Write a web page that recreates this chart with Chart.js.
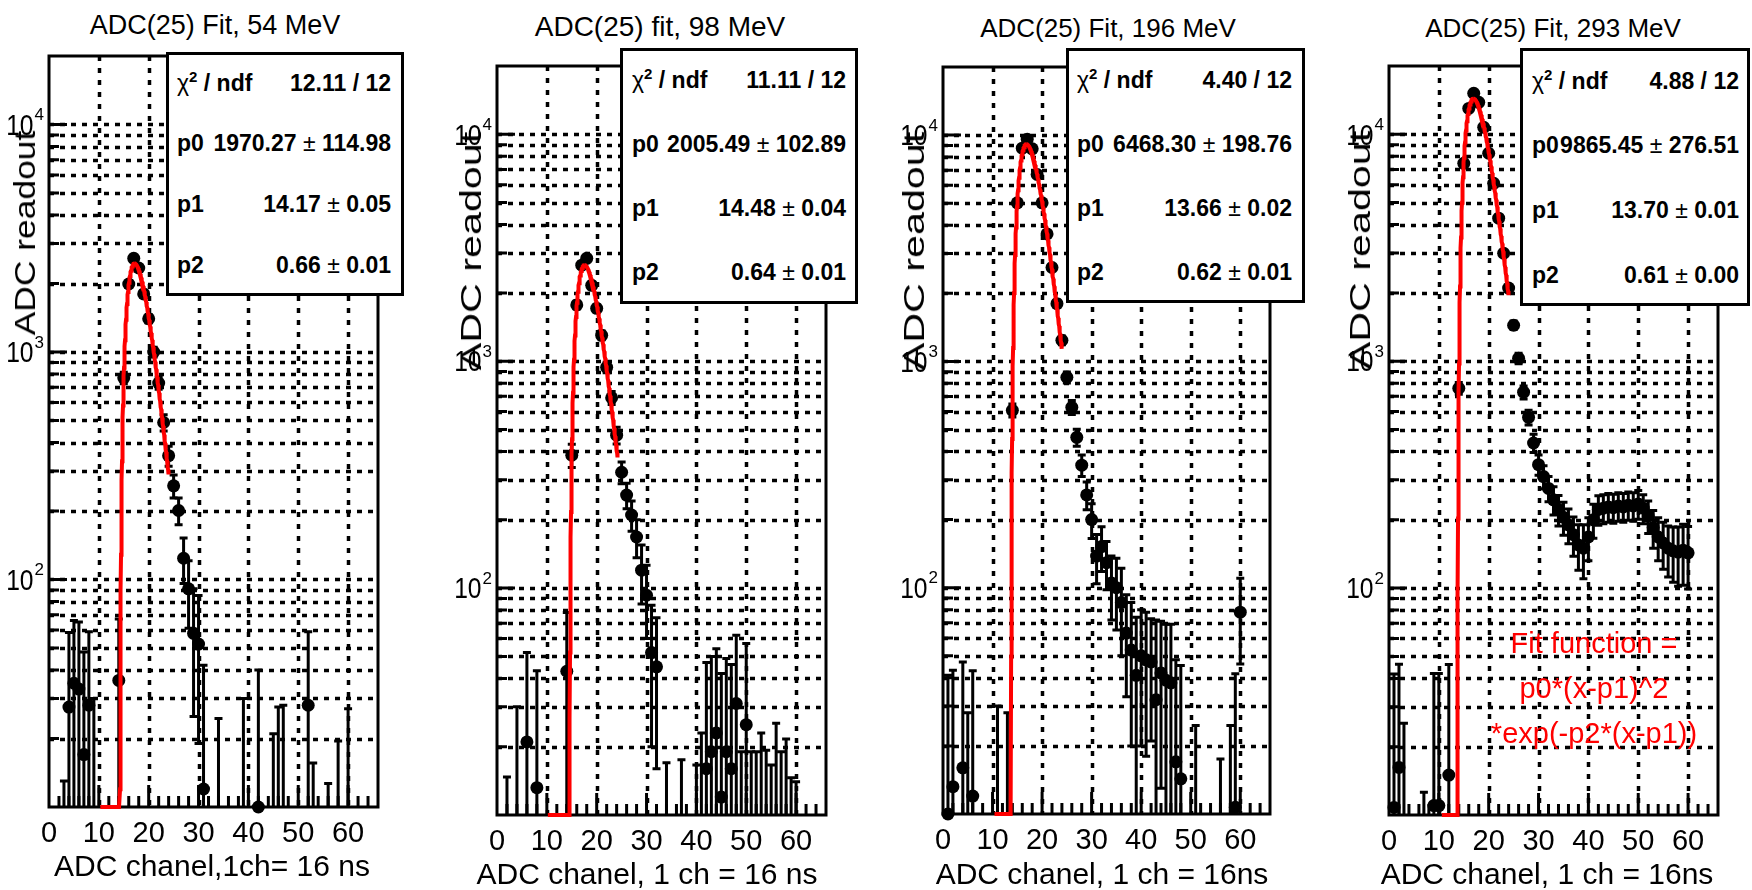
<!DOCTYPE html>
<html>
<head>
<meta charset="utf-8">
<title>ADC(25) fits</title>
<script src="https://cdn.jsdelivr.net/npm/chart.js@4.4.1/dist/chart.umd.min.js"></script>
<style>
  html, body { margin: 0; padding: 0; background: #fff; }
  #page {
    position: relative; width: 1752px; height: 890px; overflow: hidden;
    font-family: "Liberation Sans", Arial, Helvetica, sans-serif; color: #000;
  }
  #page canvas { position: absolute; }
  .title, .xtitle { position: absolute; white-space: nowrap; transform: translateX(-50%); }
  .ytitle { position: absolute; white-space: nowrap; font-size: 30px; line-height: 30px; }
  .stats {
    position: absolute; background: #fff; border: 3px solid #000; box-sizing: border-box;
    font-weight: bold; font-size: 23px;
  }
  .stats .row { position: absolute; height: 23px; line-height: 23px; white-space: nowrap; }
  .stats .val { position: absolute; top: 0; white-space: nowrap; }
  .thin { font-weight: normal; }
  .sup { font-size: 15px; position: relative; top: -9px; }
  .fitnote {
    position: absolute; color: #ff0000; font-size: 29px; line-height: 45px;
    text-align: center; white-space: nowrap; transform: translateX(-50%);
  }
</style>
</head>
<body>
<div id="page"></div>
<script>
// ---- channel spectra: channel number, readout, error ----
const chan54   = [3, 4, 5, 6, 7, 8, 9, 14, 15, 16, 17, 18, 19, 20, 21, 22, 23, 24, 25, 26, 27, 28, 29, 30, 31, 34, 39, 42, 45, 46, 47, 52, 53, 56, 58, 60];
const counts54 = [4, 27.5, 35, 33, 17, 28, 5, 36, 770, 1990, 2580, 2340, 1800, 1400, 1000, 730, 490, 350, 258, 201, 124, 91, 58, 52, 12, 6, 8, 10, 6, 7, 8, 28, 5, 4, 6, 7];
const errors54 = [9, 31, 31, 32, 31, 31, 25, 31, 45, 70, 80, 75, 65, 60, 50, 45, 40, 35, 30, 27, 28, 30, 33, 33, 30, 18.5, 22, 30, 15, 20.5, 20, 31, 10.6, 8.7, 13.5, 20];

const chan98   = [2, 4, 6, 8, 14, 15, 16, 17, 18, 19, 20, 21, 22, 23, 24, 25, 26, 27, 28, 29, 30, 31, 32, 34, 37, 40, 41, 42, 43, 44, 45, 46, 47, 48, 49, 50, 51, 52, 53, 54, 55, 56, 57, 58, 59, 60];
const counts98 = [5, 8, 21, 13.2, 43, 385, 1770, 2650, 2840, 2160, 1710, 1300, 940, 690, 472, 324, 257, 210, 168, 120, 93, 52, 45, 5, 5, 6, 7, 16, 19, 23, 12, 19, 16, 31, 7, 25, 7, 7, 8, 7, 6, 8, 7, 7, 5, 5];
const errors98 = [9.7, 22, 31, 30, 35, 45, 70, 85, 85, 75, 65, 58, 50, 45, 40, 36, 33, 32, 32, 35, 33, 32, 29, 12, 12.5, 10.6, 16, 31, 31, 31, 30, 30, 30, 31, 12, 32, 12, 12, 15, 12.3, 10.6, 17.4, 12, 14.6, 9.6, 9];

const chan196   = [1, 2, 4, 5, 6, 11, 13, 14, 15, 16, 17, 18, 19, 20, 21, 22, 23, 24, 25, 26, 27, 28, 29, 30, 31, 32, 33, 34, 35, 36, 37, 38, 39, 40, 41, 42, 43, 44, 45, 46, 47, 48, 51, 56, 58, 59, 60];
const counts196 = [10, 13.2, 16, 6, 12, 6, 6, 608, 5020, 8760, 9600, 8700, 6700, 5020, 3660, 2600, 1800, 1240, 851, 627, 462, 348, 257, 200, 138, 152, 129, 105, 100, 86, 63, 53, 41, 50, 48, 47, 32, 42, 39, 38, 17, 14.3, 6, 5, 6, 10.7, 78];
const errors196 = [31, 30, 31, 22, 31, 24, 22, 40, 110, 140, 150, 140, 125, 110, 95, 80, 68, 55, 48, 45, 40, 38, 36, 35, 34, 34, 31, 33, 35, 36, 30, 33, 33, 30, 30, 26, 40, 29, 30, 31, 31, 31, 18.6, 12.5, 18.6, 31, 32];

const chan293   = [1, 2, 3, 7, 9, 10, 12, 14, 15, 16, 17, 18, 19, 20, 21, 22, 23, 24, 25, 26, 27, 28, 29, 30, 31, 32, 33, 34, 35, 36, 37, 38, 39, 40, 41, 42, 43, 44, 45, 46, 47, 48, 49, 50, 51, 52, 53, 54, 55, 56, 57, 58, 59, 60];
const counts293 = [10.8, 16.2, 6, 4, 11, 11, 15, 760, 7450, 13000, 15170, 13830, 10730, 8250, 6080, 4270, 2990, 2100, 1440, 1030, 730, 566, 436, 350, 310, 275, 245, 222, 205, 190, 172, 155, 150, 168, 200, 222, 225, 228, 226, 230, 228, 232, 230, 235, 225, 208, 185, 168, 158, 150, 146, 144, 147, 143];
const errors293 = [31, 30, 19.4, 8.6, 31, 31, 31, 45, 140, 180, 190, 185, 165, 145, 125, 105, 90, 75, 62, 55, 48, 42, 40, 36, 36, 35, 35, 34, 34, 33, 34, 35, 40, 36, 34, 33, 33, 33, 33, 33, 33, 33, 33, 34, 33, 34, 35, 36, 37, 38, 40, 42, 44, 44];

// ---- fit results, f(x) = p0*(x-p1)^2*exp(-p2*(x-p1)) ----
const chi2   = [12.11, 11.11, 4.40, 4.88];
const ndf    = [12, 12, 12, 12];
const p0     = [1970.27, 2005.49, 6468.30, 9865.45];
const p0Err  = [114.98, 102.89, 198.76, 276.51];
const p1     = [14.17, 14.48, 13.66, 13.70];
const p1Err  = [0.05, 0.04, 0.02, 0.01];
const p2     = [0.66, 0.64, 0.62, 0.61];
const p2Err  = [0.01, 0.01, 0.01, 0.00];
const fitFrom = [10.3, 10.2, 10.4, 10.6];
const fitTo   = [24.0, 24.2, 24.0, 24.0];

// ---- texts and axes ----
const titles  = ['ADC(25) Fit, 54 MeV', 'ADC(25) fit, 98 MeV', 'ADC(25) Fit, 196 MeV', 'ADC(25) Fit, 293 MeV'];
const xTitles = ['ADC chanel,1ch= 16 ns', 'ADC chanel, 1 ch = 16 ns', 'ADC chanel, 1 ch = 16ns', 'ADC chanel, 1 ch = 16ns'];
const yTitle  = 'ADC readout';
const fitNote = ['Fit function =', 'p0*(x-p1)^2', '*exp(-p2*(x-p1))'];
const xTickValues = [0, 10, 20, 30, 40, 50, 60];
const yDecades = [10, 100, 1000, 10000];
const yLabelled = [100, 1000, 10000];

const spectra = [
  [chan54, counts54, errors54],
  [chan98, counts98, errors98],
  [chan196, counts196, errors196],
  [chan293, counts293, errors293]
];

// ---- page layout ----
const X_MIN = 0, X_MAX = 66, Y_MIN = 10, Y_MAX = 20000;
const PAD_L = 60, PAD_T = 10, PAD_R = 10, PAD_B = 50;
const FONT = '"Liberation Sans", Arial, Helvetica, sans-serif';
const GRID_WIDTH = 3.5;

const frames = [
  { l: 49, t: 56, r: 378, b: 807 },
  { l: 497, t: 66, r: 826, b: 815 },
  { l: 943, t: 67, r: 1270, b: 814 },
  { l: 1389, t: 66, r: 1718, b: 815 }
];
const titlePos  = [{ x: 215, y: 25, size: 27 }, { x: 660, y: 27, size: 28 }, { x: 1108, y: 28, size: 26 }, { x: 1553, y: 28, size: 26 }];
const xTitlePos = [{ x: 212, y: 866 }, { x: 647, y: 874 }, { x: 1102, y: 874 }, { x: 1547, y: 874 }];
const yTitlePos = [{ x: 25, y: 233, stretch: 1.18 }, { x: 471, y: 251, stretch: 1.375 }, { x: 914, y: 251, stretch: 1.375 }, { x: 1360, y: 250, stretch: 1.375 }];
const statBoxes = [
  { l: 166, t: 52, r: 404, b: 296, row0: 31, step: 60.7, padL: 8, padR: 10 },
  { l: 620, t: 48, r: 858, b: 304, row0: 32, step: 64.3, padL: 9, padR: 9 },
  { l: 1066, t: 48, r: 1305, b: 303, row0: 32, step: 64, padL: 8, padR: 10 },
  { l: 1520, t: 48, r: 1750, b: 306, row0: 33, step: 64.7, padL: 9, padR: 8 }
];
const notePos = { x: 1594, y: 643 };

const page = document.getElementById('page');

function yTickList() {
  const list = [];
  yDecades.forEach((d) => {
    for (let m = 1; m <= 9; m++) {
      const v = d * m;
      if (v >= Y_MIN && v < Y_MAX) list.push(v);
    }
  });
  return list;
}
const yTicks = yTickList();

function fitPoints(k) {
  const pts = [];
  for (let x = fitFrom[k]; x <= fitTo[k] + 1e-9; x += 0.05) {
    const d = x - p1[k];
    const f = d > 0 ? p0[k] * d * d * Math.exp(-p2[k] * d) : 0;
    pts.push({ x, y: Math.max(f, Y_MIN) });
  }
  return pts;
}

// 10^n style label, drawn left of the pad frame
function drawPow(ctx, xRight, yPix, exp) {
  ctx.save();
  ctx.fillStyle = '#000';
  ctx.textAlign = 'right';
  ctx.textBaseline = 'middle';
  ctx.font = '17px ' + FONT;
  const ew = ctx.measureText(exp).width;
  ctx.fillText(exp, xRight, yPix - 9);
  ctx.translate(xRight - ew - 1, yPix + 2);
  ctx.scale(0.82, 1);
  ctx.font = '30px ' + FONT;
  ctx.fillText('10', 0, 0);
  ctx.restore();
}

// dotted grid, error bars, axis ticks and the pad frame
function padPlugin(chan, counts, errors) {
  return {
    id: 'pad',
    beforeDatasetsDraw(chart) {
      const { ctx, chartArea: a } = chart;
      const xs = chart.scales.x, ys = chart.scales.y;
      ctx.save();
      ctx.strokeStyle = '#000';

      // grid: vertical at labelled channels, horizontal at every log tick
      ctx.lineWidth = GRID_WIDTH;
      ctx.setLineDash([5, 7]);
      ctx.beginPath();
      xTickValues.forEach((v) => {
        if (v <= X_MIN) return;
        const px = Math.round(xs.getPixelForValue(v)) + 0.5;
        ctx.moveTo(px, a.top);
        ctx.lineTo(px, a.bottom);
      });
      ctx.stroke();
      ctx.setLineDash([5, 6]);
      ctx.beginPath();
      yTicks.forEach((v) => {
        if (v <= Y_MIN) return;
        const py = Math.round(ys.getPixelForValue(v)) + 0.5;
        ctx.moveTo(a.left, py);
        ctx.lineTo(a.right, py);
      });
      ctx.stroke();
      ctx.setLineDash([]);

      ctx.lineWidth = 3;
      chan.forEach((c, i) => {
        const hi = counts[i] + errors[i];
        const lo = counts[i] - errors[i];
        if (hi <= Y_MIN) return;
        const px = xs.getPixelForValue(c);
        const top = ys.getPixelForValue(Math.min(hi, Y_MAX));
        const bot = lo > Y_MIN ? ys.getPixelForValue(lo) : a.bottom;
        ctx.beginPath();
        ctx.moveTo(px, bot);
        ctx.lineTo(px, top);
        ctx.moveTo(px - 4, top);
        ctx.lineTo(px + 4, top);
        if (lo > Y_MIN) {
          ctx.moveTo(px - 4, bot);
          ctx.lineTo(px + 4, bot);
        }
        ctx.stroke();
      });

      ctx.beginPath();
      for (let v = X_MIN + 2; v < X_MAX; v += 2) {
        const px = xs.getPixelForValue(v);
        const len = v % 10 === 0 ? 22 : 11;
        ctx.moveTo(px, a.bottom);
        ctx.lineTo(px, a.bottom - len);
      }
      yTicks.forEach((v) => {
        if (v <= Y_MIN) return;
        const py = ys.getPixelForValue(v);
        const len = yDecades.includes(v) ? 18 : 10;
        ctx.moveTo(a.left, py);
        ctx.lineTo(a.left + len, py);
      });
      ctx.stroke();

      ctx.strokeRect(a.left, a.top, a.right - a.left, a.bottom - a.top);
      ctx.restore();
    },
    afterDraw(chart) {
      const { ctx, chartArea: a } = chart;
      const ys = chart.scales.y;
      yLabelled.forEach((v) => {
        drawPow(ctx, a.left - 5, ys.getPixelForValue(v), String(Math.round(Math.log10(v))));
      });
    }
  };
}

function addText(cls, text, css) {
  const el = document.createElement('div');
  el.className = cls;
  el.textContent = text;
  Object.assign(el.style, css);
  page.appendChild(el);
  return el;
}

function makePanel(k) {
  const [chan, counts, errors] = spectra[k];
  const f = frames[k];
  const canvas = document.createElement('canvas');
  canvas.width = f.r - f.l + PAD_L + PAD_R;
  canvas.height = f.b - f.t + PAD_T + PAD_B;
  canvas.style.left = (f.l - PAD_L) + 'px';
  canvas.style.top = (f.t - PAD_T) + 'px';
  page.appendChild(canvas);

  new Chart(canvas, {
    type: 'scatter',
    data: {
      datasets: [
        {
          type: 'line',
          data: fitPoints(k),
          borderColor: '#ff0000',
          borderWidth: 4,
          pointRadius: 0,
          tension: 0,
          fill: false,
          clip: 4,
          order: 0
        },
        {
          type: 'scatter',
          data: chan.map((c, i) => ({ x: c, y: counts[i] })),
          backgroundColor: '#000',
          borderColor: '#000',
          borderWidth: 0,
          pointRadius: (ctx) => (ctx.raw && ctx.raw.y >= Y_MIN ? 6.5 : 0),
          clip: 8,
          order: 1
        }
      ]
    },
    options: {
      responsive: false,
      animation: false,
      events: [],
      layout: { padding: { top: PAD_T, right: PAD_R, left: 0, bottom: 0 } },
      plugins: { legend: { display: false }, tooltip: { enabled: false }, title: { display: false } },
      scales: {
        x: {
          type: 'linear',
          min: X_MIN,
          max: X_MAX,
          afterBuildTicks: (s) => { s.ticks = xTickValues.map((v) => ({ value: v })); },
          afterFit: (s) => { s.height = PAD_B; },
          grid: { display: false, drawTicks: false },
          border: { display: false },
          ticks: { color: '#000', font: { family: FONT, size: 29 }, padding: 10, maxRotation: 0, autoSkip: false }
        },
        y: {
          type: 'logarithmic',
          min: Y_MIN,
          max: Y_MAX,
          afterBuildTicks: (s) => { s.ticks = yTicks.map((v) => ({ value: v })); },
          afterFit: (s) => { s.width = PAD_L; },
          grid: { display: false, drawTicks: false },
          border: { display: false },
          ticks: { display: false }
        }
      }
    },
    plugins: [padPlugin(chan, counts, errors)]
  });

  const tp = titlePos[k];
  addText('title', titles[k], {
    left: tp.x + 'px', top: (tp.y - tp.size / 2) + 'px',
    fontSize: tp.size + 'px', lineHeight: tp.size + 'px'
  });

  const xp = xTitlePos[k];
  addText('xtitle', xTitles[k], {
    left: xp.x + 'px', top: (xp.y - 15) + 'px', fontSize: '30px', lineHeight: '30px'
  });

  const yp = yTitlePos[k];
  addText('ytitle', yTitle, {
    left: yp.x + 'px', top: yp.y + 'px',
    transform: 'translate(-50%, -50%) rotate(-90deg) scaleX(' + yp.stretch + ')'
  });

  // fit statistics box
  const sb = statBoxes[k];
  const box = document.createElement('div');
  box.className = 'stats';
  Object.assign(box.style, {
    left: sb.l + 'px', top: sb.t + 'px', width: (sb.r - sb.l) + 'px', height: (sb.b - sb.t) + 'px'
  });
  const rows = [
    ['<span class="thin">&chi;</span><span class="sup">2</span> / ndf', chi2[k].toFixed(2) + ' / ' + ndf[k]],
    ['p0', p0[k].toFixed(2) + ' <span class="thin">&plusmn;</span> ' + p0Err[k].toFixed(2)],
    ['p1', p1[k].toFixed(2) + ' <span class="thin">&plusmn;</span> ' + p1Err[k].toFixed(2)],
    ['p2', p2[k].toFixed(2) + ' <span class="thin">&plusmn;</span> ' + p2Err[k].toFixed(2)]
  ];
  rows.forEach(([label, value], i) => {
    const row = document.createElement('div');
    row.className = 'row';
    Object.assign(row.style, {
      left: sb.padL + 'px', right: sb.padR + 'px',
      top: (sb.row0 + sb.step * i - 3 - 11.5) + 'px'
    });
    row.innerHTML = '<span>' + label + '</span><span class="val" style="right:0">' + value + '</span>';
    box.appendChild(row);
  });
  page.appendChild(box);
}

[0, 1, 2, 3].forEach(makePanel);

// fit function note inside the last pad
const note = document.createElement('div');
note.className = 'fitnote';
note.style.left = notePos.x + 'px';
note.style.top = (notePos.y - 22.5) + 'px';
note.innerHTML = fitNote.join('<br>');
page.appendChild(note);
</script>
</body>
</html>
